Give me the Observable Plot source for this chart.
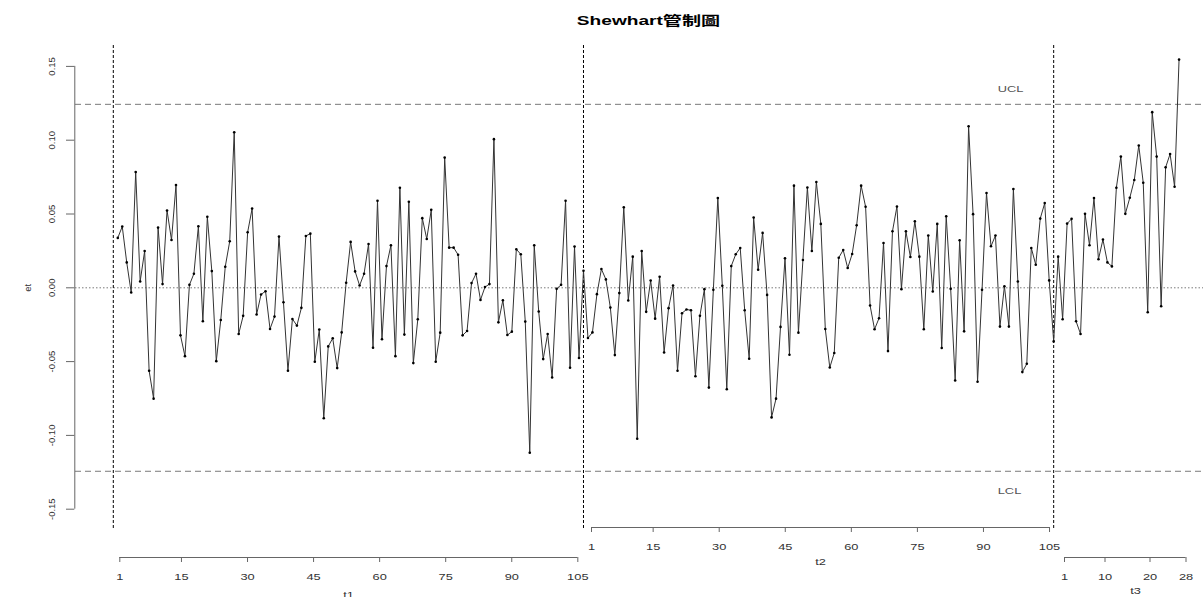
<!DOCTYPE html>
<html>
<head>
<meta charset="utf-8">
<script src="https://cdn.jsdelivr.net/npm/d3@7"></script>
<script src="https://cdn.jsdelivr.net/npm/@observablehq/plot@0.6"></script>
<style>
  body { margin: 0; background: #fff; }
  svg { display: block; }
</style>
</head>
<body>
<div id="chart"></div>
<script>
// Residuals et for the three periods
const t1 = [
  0.0338, 0.0415, 0.0172, -0.0032, 0.0785, 0.0043, 0.0249, -0.0562, -0.0751, 0.0408,
  0.0025, 0.0524, 0.0324, 0.0696, -0.0322, -0.0463, 0.0020, 0.0095, 0.0417, -0.0227,
  0.0481, 0.0113, -0.0497, -0.0218, 0.0143, 0.0315, 0.1054, -0.0313, -0.0190, 0.0376,
  0.0537, -0.0181, -0.0045, -0.0023, -0.0279, -0.0195, 0.0347, -0.0098, -0.0562, -0.0211,
  -0.0256, -0.0136, 0.0351, 0.0367, -0.0501, -0.0283, -0.0884, -0.0397, -0.0342, -0.0544,
  -0.0302, 0.0034, 0.0311, 0.0111, 0.0016, 0.0095, 0.0297, -0.0406, 0.0590, -0.0349,
  0.0147, 0.0288, -0.0463, 0.0678, -0.0317, 0.0583, -0.0510, -0.0213, 0.0472, 0.0331,
  0.0528, -0.0501, -0.0304, 0.0882, 0.0272, 0.0272, 0.0224, -0.0322, -0.0293, 0.0032,
  0.0095, -0.0082, 0.0005, 0.0025, 0.1007, -0.0234, -0.0084, -0.0320, -0.0297, 0.0261,
  0.0227, -0.0229, -0.1118, 0.0288, -0.0161, -0.0483, -0.0313, -0.0608, -0.0007, 0.0020,
  0.0590, -0.0542, 0.0279, -0.0476, 0.0116
];
const t2 = [
  -0.0340, -0.0302, -0.0043, 0.0127, 0.0057,
  -0.0134, -0.0456, -0.0036, 0.0546, -0.0086, 0.0211, -0.1023, 0.0249, -0.0163, 0.0049,
  -0.0209, 0.0075, -0.0438, -0.0138, 0.0016, -0.0562, -0.0172, -0.0147, -0.0152, -0.0599,
  -0.0190, -0.0009, -0.0676, -0.0014, 0.0608, 0.0014, -0.0687, 0.0147, 0.0227, 0.0270,
  -0.0152, -0.0481, 0.0476, 0.0122, 0.0372, -0.0048, -0.0878, -0.0751, -0.0265, 0.0200,
  -0.0454, 0.0692, -0.0304, 0.0188, 0.0680, 0.0249, 0.0717, 0.0433, -0.0279, -0.0540,
  -0.0442, 0.0204, 0.0256, 0.0134, 0.0229, 0.0424, 0.0692, 0.0549, -0.0120, -0.0281,
  -0.0206, 0.0304, -0.0429, 0.0383, 0.0551, -0.0009, 0.0383, 0.0209, 0.0451, 0.0211,
  -0.0281, 0.0354, -0.0025, 0.0433, -0.0408, 0.0485, -0.0007, -0.0628, 0.0322, -0.0295,
  0.1095, 0.0499, -0.0637, -0.0014, 0.0642, 0.0281, 0.0354, -0.0263, 0.0011, -0.0263,
  0.0669, 0.0043, -0.0571, -0.0515, 0.0270, 0.0156, 0.0469, 0.0574, 0.0050, -0.0363
];
const t3 = [
  0.0211, -0.0213, 0.0435, 0.0467, -0.0227, -0.0313, 0.0501, 0.0288, 0.0608, 0.0193,
  0.0327, 0.0172, 0.0145, 0.0678, 0.0889, 0.0501, 0.0610, 0.0730, 0.0964, 0.0712,
  -0.0166, 0.1190, 0.0889, -0.0125, 0.0816, 0.0907, 0.0685, 0.1546
];

// Control limits and tick labels
const ucl = 0.1243;
const lcl = -0.1243;
const yTicks = [-0.15, -0.10, -0.05, 0, 0.05, 0.10, 0.15];
const t1Ticks = [1, 15, 30, 45, 60, 75, 90, 105];
const t2Ticks = [1, 15, 30, 45, 60, 75, 90, 105];
const t3Ticks = [1, 10, 20, 28];
const periodNames = ["t1", "t2", "t3"];
const limitNames = ["UCL", "LCL"];
const title = "Shewhart管制圖";
const yLabel = "et";

// One continuous series, observation index 1..238
const series = [...t1, ...t2, ...t3].map((et, i) => ({t: i + 1, et}));
const breaks = [0, t1.length, t1.length + t2.length];

// Page geometry (pixels) and helpers turning pixel positions into scale values
const W = 1203, H = 597;
const frameLeft = 75, frameTop = 45, frameBottom = 528.3;
const X0 = 112.8, XS = 4.478;   // position of index 0, pixels per observation
const Y0 = 287.3, YS = 1476;    // position of et = 0, pixels per unit
const xv = px => (px - X0) / XS;
const yv = px => (Y0 - px) / YS;

const axisColor = "#666";
const textColor = "#333";
const fontSize = 9.5;

// Each period has its own bottom axis
const periodAxes = [
  {ticks: t1Ticks, name: periodNames[0], start: 119.3, step: 4.404, lineY: 557, labelY: 576, titleX: 348, titleY: 594},
  {ticks: t2Ticks, name: periodNames[1], start: 591, step: 4.404, lineY: 527, labelY: 546, titleX: 820, titleY: 561},
  {ticks: t3Ticks, name: periodNames[2], start: 1064, step: 4.5, lineY: 557, labelY: 576, titleX: 1135, titleY: 590}
];

function periodAxisMarks(a) {
  const pos = k => xv(a.start + (k - 1) * a.step);
  const first = a.ticks[0], last = a.ticks[a.ticks.length - 1];
  return [
    Plot.ruleY([yv(a.lineY)], {x1: pos(first), x2: pos(last), stroke: axisColor}),
    Plot.ruleX(a.ticks, {x: pos, y1: yv(a.lineY), y2: yv(a.lineY + 5), stroke: axisColor}),
    Plot.text(a.ticks, {x: pos, y: yv(a.labelY), text: d => String(d), fill: textColor, fontSize}),
    Plot.text([a.name], {x: xv(a.titleX), y: yv(a.titleY), text: d => d, fill: textColor, fontSize})
  ];
}

const chart = Plot.plot({
  width: W,
  height: H,
  marginLeft: frameLeft,
  marginRight: 0,
  marginTop: frameTop,
  marginBottom: H - frameBottom,
  style: {fontFamily: "'Liberation Sans', Arial, 'Noto Sans CJK TC', sans-serif", background: "#fff"},
  x: {domain: [xv(frameLeft), xv(W)], axis: null},
  y: {domain: [yv(frameBottom), yv(frameTop)], axis: null},
  marks: [
    // control limits and centre line
    Plot.ruleY([ucl, lcl], {stroke: "#7a7a7a", strokeDasharray: "6,4"}),
    Plot.ruleY([0], {stroke: "#7a7a7a", strokeDasharray: "1.5,2"}),
    // period boundaries
    Plot.ruleX(breaks, {stroke: "#000", strokeDasharray: "3,2"}),
    // residual series
    Plot.line(series, {x: "t", y: "et", stroke: "#333", strokeWidth: 1}),
    Plot.dot(series, {x: "t", y: "et", r: 1.3, fill: "#000", stroke: "none"}),
    // left axis
    Plot.ruleX([xv(74.3)], {y1: yTicks[0], y2: yTicks[yTicks.length - 1], stroke: axisColor}),
    Plot.ruleY(yTicks, {y: d => d, x1: xv(66), x2: xv(74.3), stroke: axisColor}),
    Plot.text(yTicks, {x: xv(51), y: d => d, text: d => d.toFixed(2), rotate: -90, fill: textColor, fontSize}),
    Plot.text([yLabel], {x: xv(27), y: 0, text: d => d, rotate: -90, fill: textColor, fontSize}),
    // limit labels
    Plot.text([limitNames[0]], {x: xv(1010), y: yv(88), text: d => d, fill: "#555", fontSize}),
    Plot.text([limitNames[1]], {x: xv(1009), y: yv(490), text: d => d, fill: "#555", fontSize}),
    // bottom axes
    ...periodAxes.flatMap(periodAxisMarks),
    // title
    Plot.text([title], {x: xv(648), y: yv(20), text: d => d, fontSize: 13, fontWeight: "bold", fill: "#000"})
  ]
});

document.getElementById("chart").appendChild(chart);

// The lettering is set wide: stretch each horizontal label along its own length
chart.querySelectorAll("g[aria-label='text']").forEach(g => {
  const bold = g.getAttribute("font-weight") === "bold";
  const sx = bold ? 1.47 : 1.35;
  g.querySelectorAll("text").forEach(el => {
    const tr = el.getAttribute("transform") || "";
    if (/rotate/.test(tr)) return;
    const len = el.getComputedTextLength();
    if (len > 0) {
      el.setAttribute("textLength", (len * sx).toFixed(2));
      el.setAttribute("lengthAdjust", "spacingAndGlyphs");
    }
  });
});
</script>
</body>
</html>
